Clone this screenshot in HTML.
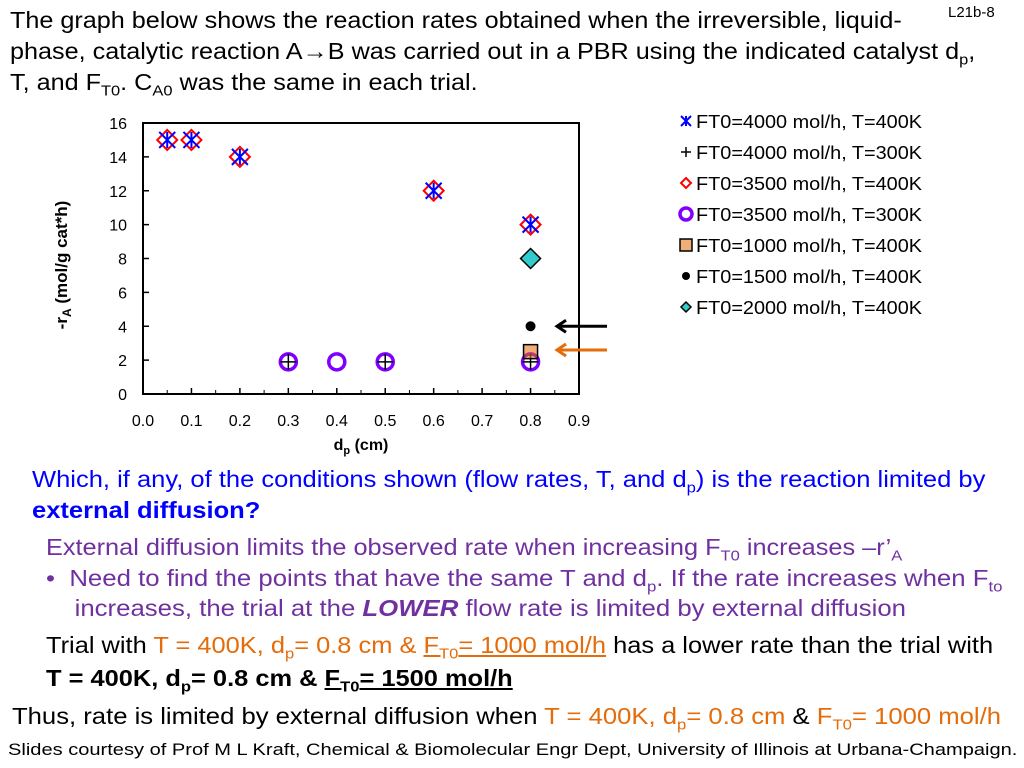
<!DOCTYPE html>
<html><head><meta charset="utf-8"><style>
body{margin:0;width:1024px;height:768px;background:#fff;font-family:"Liberation Sans",Arial,sans-serif;position:relative;overflow:hidden}
.t{position:absolute;white-space:nowrap;transform-origin:0 0}
sub{line-height:0}
.o{color:#e46c0a}
.p{color:#7030a0}
</style></head><body>
<div class="t" style="left:948px;top:4px;font-size:15px">L21b-8</div>
<div class="t" style="left:10px;top:5px;font-size:23px;line-height:31px;transform:scaleX(1.095)">The graph below shows the reaction rates obtained when the irreversible, liquid-<br>phase, catalytic reaction A→B was carried out in a PBR using the indicated catalyst d<sub style="font-size:15px">p</sub>,<br>T, and F<sub style="font-size:15px">T0</sub>. C<sub style="font-size:15px">A0</sub> was the same in each trial.</div>
<svg width="1024" height="470" style="position:absolute;left:0;top:0" id="chart"></svg>
<div class="t" style="left:32px;top:464px;font-size:23px;line-height:31px;color:#0000ff;transform:scaleX(1.11)">Which, if any, of the conditions shown (flow rates, T, and d<sub style="font-size:15px">p</sub>) is the reaction limited by<br><b>external diffusion?</b></div>
<div class="t p" style="left:46px;top:534px;font-size:23px;transform:scaleX(1.1)">External diffusion limits the observed rate when increasing F<sub style="font-size:15px">T0</sub> increases –r’<sub style="font-size:15px">A</sub></div>
<div class="t p" style="left:46px;top:563px;font-size:23px;line-height:30px;transform:scaleX(1.12)">•&nbsp; Need to find the points that have the same T and d<sub style="font-size:15px">p</sub>. If the rate increases when F<sub style="font-size:15px">to</sub><br>&nbsp;&nbsp;&nbsp; increases, the trial at the <b><i>LOWER</i></b> flow rate is limited by external diffusion</div>
<div class="t" style="left:46px;top:629px;font-size:23px;line-height:33px;transform:scaleX(1.105)">Trial with <span class="o">T = 400K, d<sub style="font-size:15px">p</sub>= 0.8 cm &amp; <u>F<sub style="font-size:15px">T0</sub>= 1000 mol/h</u></span> has a lower rate than the trial with<br><b>T = 400K, d<sub style="font-size:15px">p</sub>= 0.8 cm &amp; <u>F<sub style="font-size:15px">T0</sub>= 1500 mol/h</u></b></div>
<div class="t" style="left:12px;top:703px;font-size:23px;transform:scaleX(1.115)">Thus, rate is limited by external diffusion when <span class="o">T = 400K, d<sub style="font-size:15px">p</sub>= 0.8 cm</span> &amp; <span class="o">F<sub style="font-size:15px">T0</sub>= 1000 mol/h</span></div>
<div class="t" style="left:8px;top:740px;font-size:17px;transform:scaleX(1.18)">Slides courtesy of Prof M L Kraft, Chemical &amp; Biomolecular Engr Dept, University of Illinois at Urbana-Champaign.</div>
<script>
const xTicks=[0,0.1,0.2,0.3,0.4,0.5,0.6,0.7,0.8,0.9];
const yTicks=[0,2,4,6,8,10,12,14,16];
const s4000_400_x=[0.05,0.1,0.2,0.6,0.8]; const s4000_400_y=[15,15,14,12,10];
const s4000_300_x=[0.3,0.5,0.8]; const s4000_300_y=[1.9,1.9,1.9];
const s3500_400_x=[0.05,0.1,0.2,0.6,0.8]; const s3500_400_y=[15,15,14,12,10];
const s3500_300_x=[0.3,0.4,0.5,0.8]; const s3500_300_y=[1.9,1.9,1.9,1.9];
const s1000_400_x=[0.8]; const s1000_400_y=[2.5];
const s1500_400_x=[0.8]; const s1500_400_y=[4];
const s2000_400_x=[0.8]; const s2000_400_y=[8];
const legendLabels=["FT0=4000 mol/h, T=400K","FT0=4000 mol/h, T=300K","FT0=3500 mol/h, T=400K","FT0=3500 mol/h, T=300K","FT0=1000 mol/h, T=400K","FT0=1500 mol/h, T=400K","FT0=2000 mol/h, T=400K"];
const L=143,R=579,T=123,B=394;
const X=v=>L+(v-0)/(0.9)*(R-L), Y=v=>B-v/16*(B-T);
const svg=document.getElementById('chart');const NS='http://www.w3.org/2000/svg';
function mk(tag,a,name,parent){const e=document.createElementNS(NS,tag);for(const k in a)e.setAttribute(k,a[k]);


(parent||svg).appendChild(e);return e;}
function txt(x,y,s,name,extra){const e=mk('text',Object.assign({x:x,y:y,'font-size':16,'font-family':'Liberation Sans, sans-serif'},extra||{}),name);e.textContent=s;return e;}
mk('rect',{x:L,y:T,width:R-L,height:B-T,fill:'none',stroke:'#000','stroke-width':2},'plot-frame');
xTicks.forEach(v=>{mk('line',{x1:X(v),x2:X(v),y1:B,y2:B-6,stroke:'#000','stroke-width':1.5},'x-tick');txt(X(v),426,v.toFixed(1),'x-tick-label',{'text-anchor':'middle'});});
for(let v=0.05;v<0.9;v+=0.1){mk('line',{x1:X(v),x2:X(v),y1:B,y2:B-4,stroke:'#000','stroke-width':1},'x-minor-tick');}
yTicks.forEach(v=>{mk('line',{x1:L,x2:L+6,y1:Y(v),y2:Y(v),stroke:'#000','stroke-width':1.5},'y-tick');txt(127,Y(v)+6,String(v),'y-tick-label',{'text-anchor':'end'});});
const xt=txt(361,450,'','x-axis-title',{'text-anchor':'middle','font-weight':'bold'});xt.innerHTML='d<tspan font-size="11" dy="4">p</tspan><tspan dy="-4"> (cm)</tspan>';
const yt=txt(0,0,'','y-axis-title',{'text-anchor':'middle','font-weight':'bold','font-size':17,transform:'translate(67,265) rotate(-90)'});yt.innerHTML='-r<tspan font-size="12" dy="4">A</tspan><tspan dy="-4"> (mol/g cat*h)</tspan>';
const draw={
 star:(x,y,n,r)=>{r=r||8;mk('path',{d:`M${x-r} ${y-r}L${x+r} ${y+r}M${x-r} ${y+r}L${x+r} ${y-r}M${x} ${y-r}V${y+r}`,stroke:'#0000ff','stroke-width':2,fill:'none'},n);},
 plus:(x,y,n,r)=>{r=r||8;mk('path',{d:`M${x-r} ${y}H${x+r}M${x} ${y-r}V${y+r}`,stroke:'#000','stroke-width':1.5},n);},
 diamond:(x,y,n,r)=>{r=r||10;mk('path',{d:`M${x} ${y-r}L${x+r} ${y}L${x} ${y+r}L${x-r} ${y}Z`,stroke:'#ff0000','stroke-width':2,fill:'none'},n);},
 circle:(x,y,n,r)=>{r=r||8;mk('circle',{cx:x,cy:y,r:r,stroke:'#8000ff','stroke-width':3.5,fill:'none'},n);},
 square:(x,y,n,r)=>{r=r||7;mk('rect',{x:x-r,y:y-r,width:2*r,height:2*r,stroke:'#000','stroke-width':1.5,fill:'#e46c0a','fill-opacity':0.55},n);},
 dot:(x,y,n,r)=>{mk('circle',{cx:x,cy:y,r:r||5,fill:'#000'},n);},
 teal:(x,y,n,r)=>{r=r||10;mk('path',{d:`M${x} ${y-r}L${x+r} ${y}L${x} ${y+r}L${x-r} ${y}Z`,stroke:'#000','stroke-width':1.5,fill:'#33cccc'},n);}
};
const series=[[s3500_300_x,s3500_300_y,'circle'],[s3500_400_x,s3500_400_y,'diamond'],[s4000_400_x,s4000_400_y,'star'],[s4000_300_x,s4000_300_y,'plus'],[s1000_400_x,s1000_400_y,'square'],[s1500_400_x,s1500_400_y,'dot'],[s2000_400_x,s2000_400_y,'teal']];
series.forEach(s=>s[0].forEach((v,i)=>draw[s[2]](X(v),Y(s[1][i]),'point-'+s[2])));
mk('path',{d:`M607 ${Y(4)}H557M566 ${Y(4)-6}L557 ${Y(4)}L566 ${Y(4)+6}`,stroke:'#000','stroke-width':3,fill:'none'},'black-arrow');
mk('path',{d:`M607 ${Y(2.6)}H557M566 ${Y(2.6)-6}L557 ${Y(2.6)}L566 ${Y(2.6)+6}`,stroke:'#e46c0a','stroke-width':3,fill:'none'},'orange-arrow');
const lm=['star','plus','diamond','circle','square','dot','teal'];const lr=[5,5,5,6,6,4,5];
legendLabels.forEach((s,i)=>{const y=121+i*31;draw[lm[i]](686,y,'legend-marker',lr[i]);txt(696,y+7,s,'legend-entry',{'font-size':18,textLength:226,lengthAdjust:'spacingAndGlyphs'});});
</script>
</body></html>
